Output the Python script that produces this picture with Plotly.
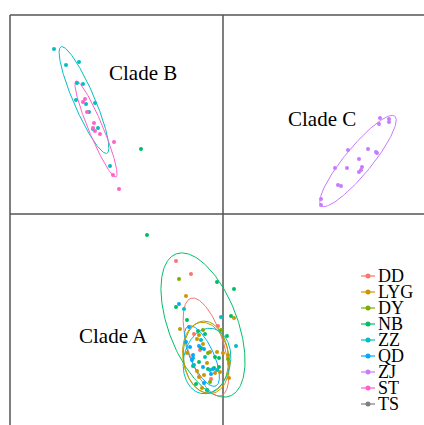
import numpy as np
import plotly.graph_objects as go

# ---------------- data (PC1, PC2 scores) ----------------
GROUPS = ["DD", "LYG", "DY", "NB", "ZZ", "QD", "ZJ", "ST", "TS"]
COLORS = ["#F8766D", "#CD9600", "#7CAE00", "#00BE67", "#00BFC4",
          "#00A9FF", "#C77CFF", "#FF61CC", "#7F7F7F"]

DD_X = [-4.7, -3.2, -2.3, -2.9, -1.2, -0.5]
DD_Y = [-4.7, -6.0, -13.6, -12.0, -16.5, -11.2]

LYG_X = [-3.7, 1.1, -4.3, -2.4, -2.6, -2.0, -3.6, -1.3, -0.6, 0.0, 0.5, 0.6,
         -1.6, -2.6, -0.8, -1.9, -0.3, -2.4, -2.1, -1.6, 0.6]
LYG_Y = [-8.2, -10.4, -11.5, -12.1, -12.5, -13.0, -13.9, -13.8, -13.8, -13.9, -14.1, -14.9,
         -14.9, -15.7, -15.9, -16.1, -15.8, -16.3, -17.4, -17.6, -16.4]

DY_X = [-4.4, -2.0, -1.5, 0.5, -1.3, -0.2]
DY_Y = [-6.5, -11.6, -13.9, -14.5, -16.8, -11.6]

NB_X = [-7.6, -0.6, 1.1, -4.7, 0.8, -3.6, -2.5, -1.8, 0.4, -2.2, -0.8, -0.4,
        -3.0, -2.4, -1.5, -0.9, -0.4, -2.7, -8.2]
NB_Y = [-2.1, -6.8, -7.5, -9.3, -10.2, -10.6, -11.7, -12.0, -12.2, -13.4, -14.3, -14.4,
        -15.2, -14.8, -15.5, -15.4, -15.3, -17.0, 6.5]

ZZ_X = [-16.9, -15.7, -14.4, -14.6, -14.0, -14.7, -13.7, -13.4, -12.8, -13.0, -12.5, -11.3,
        -3.9, -0.2, 1.3, -1.8, -2.9, -1.3, -3.0, -0.6, -1.6, -2.2]
ZZ_Y = [16.5, 14.9, 15.2, 13.1, 13.0, 11.4, 11.0, 10.2, 11.1, 8.5, 8.6, 4.8,
        -9.5, -10.3, -13.2, -14.3, -15.1, -15.6, -14.4, -15.6, -17.6, -12.6]

QD_X = [-4.4, -3.4, -3.3, -2.4, -1.9, -3.0, -3.1, -2.0, -1.0, -1.2, -1.9, -3.7]
QD_Y = [-9.0, -11.3, -13.3, -13.2, -13.5, -14.1, -14.6, -15.3, -15.5, -16.0, -16.9, -12.8]

ZJ_X = [15.7, 16.6, 16.6, 15.6, 12.5, 14.5, 15.3, 15.4, 13.6, 11.2, 12.4, 13.9,
        13.8, 13.6, 11.5, 11.8, 9.8, 9.8]
ZJ_Y = [9.6, 9.5, 9.2, 9.0, 6.4, 6.5, 6.2, 6.1, 5.5, 4.6, 4.6, 4.7,
        4.4, 4.2, 2.9, 2.8, 1.5, 0.9]

ST_X = [-14.0, -13.8, -13.6, -12.9, -12.8, -12.3, -10.9, -11.0, -10.4, -13.0]
ST_Y = [11.2, 11.5, 10.2, 9.1, 8.3, 8.0, 7.2, 3.9, 2.5, 8.6]

TS_X = []
TS_Y = []

POINTS = {"DD": (DD_X, DD_Y), "LYG": (LYG_X, LYG_Y), "DY": (DY_X, DY_Y),
          "NB": (NB_X, NB_Y), "ZZ": (ZZ_X, ZZ_Y), "QD": (QD_X, QD_Y),
          "ZJ": (ZJ_X, ZJ_Y), "ST": (ST_X, ST_Y), "TS": (TS_X, TS_Y)}

# confidence ellipses: centre, semi-axes and orientation (degrees)
ELL_GROUP = ["ZZ", "ST", "ZJ", "NB", "DD", "QD", "DY", "LYG", "ZZ"]
ELL_CX = [-13.9, -12.7, 13.5, -2.0, -1.7, -2.1, -1.7, -1.7, -1.6]
ELL_CY = [11.4, 8.5, 5.3, -11.1, -13.3, -14.2, -14.3, -14.4, -14.7]
ELL_A = [5.8, 5.2, 5.8, 7.6, 5.1, 3.3, 3.6, 3.6, 3.3]
ELL_B = [1.05, 0.72, 1.35, 3.45, 1.8, 1.17, 2.25, 2.3, 2.35]
ELL_ANG = [113.3, 112.6, 50.6, 110.8, 107.2, 114.8, 95.0, 100.0, 80.0]

CLADE_LABELS = ["Clade B", "Clade C", "Clade A"]
CLADE_X = [-8.0, 9.9, -11.0]
CLADE_Y = [14.1, 9.5, -12.2]

# ---------------- figure ----------------
W, H = 424, 425
X0PX, Y0PX, SCALE = 223, 214, 10.0
XR = [-X0PX / SCALE, (W - X0PX) / SCALE]
YR = [-(H - Y0PX) / SCALE, Y0PX / SCALE]
FONT = "Liberation Serif"
col = dict(zip(GROUPS, COLORS))

fig = go.Figure()

t = np.linspace(0, 2 * np.pi, 240)
for g, cx, cy, a, b, ang in zip(ELL_GROUP, ELL_CX, ELL_CY, ELL_A, ELL_B, ELL_ANG):
    th = np.deg2rad(ang)
    ex = cx + a * np.cos(th) * np.cos(t) - b * np.sin(th) * np.sin(t)
    ey = cy + a * np.sin(th) * np.cos(t) + b * np.cos(th) * np.sin(t)
    fig.add_trace(go.Scatter(x=ex, y=ey, mode="lines", line=dict(color=col[g], width=1),
                             hoverinfo="skip", showlegend=False))

for g in GROUPS:
    xs, ys = POINTS[g]
    fig.add_trace(go.Scatter(x=xs, y=ys, mode="markers", name=g,
                             marker=dict(color=col[g], size=4), showlegend=False))

# frame + axis lines
frame_col = "#555555"
top_y = (Y0PX - 15) / SCALE
left_x = (10 - X0PX) / SCALE
for x0, y0, x1, y1 in [(left_x, top_y, XR[1], top_y), (left_x, top_y, left_x, YR[0]),
                       (0, top_y, 0, YR[0]), (left_x, 0, XR[1], 0)]:
    fig.add_shape(type="line", x0=x0, y0=y0, x1=x1, y1=y1, xref="x", yref="y",
                  line=dict(color=frame_col, width=1.5), layer="below")

for lab, x, y in zip(CLADE_LABELS, CLADE_X, CLADE_Y):
    fig.add_annotation(x=x, y=y, text=lab, showarrow=False,
                       font=dict(family=FONT, size=21, color="black"))

# manual legend
LEG_X, LEG_Y0, LEG_DY, LEG_HALF = 14.5, -6.2, -1.6, 0.7
for i, g in enumerate(GROUPS):
    ly = LEG_Y0 + i * LEG_DY
    fig.add_trace(go.Scatter(x=[LEG_X - LEG_HALF, LEG_X, LEG_X + LEG_HALF], y=[ly, ly, ly],
                             mode="lines", line=dict(color=col[g], width=1.2),
                             hoverinfo="skip", showlegend=False))
    fig.add_trace(go.Scatter(x=[LEG_X], y=[ly], mode="markers",
                             marker=dict(color=col[g], size=5),
                             hoverinfo="skip", showlegend=False))
    fig.add_annotation(x=LEG_X + LEG_HALF + 0.1, y=ly, text=g, showarrow=False,
                       xanchor="left", yanchor="middle",
                       font=dict(family=FONT, size=18, color="black"))

fig.update_layout(width=W, height=H, autosize=False,
                  margin=dict(l=0, r=0, t=0, b=0),
                  paper_bgcolor="white", plot_bgcolor="white",
                  showlegend=False)
fig.update_xaxes(range=XR, visible=False, showgrid=False, zeroline=False)
fig.update_yaxes(range=YR, visible=False, showgrid=False, zeroline=False)

fig.write_html("out.html")
